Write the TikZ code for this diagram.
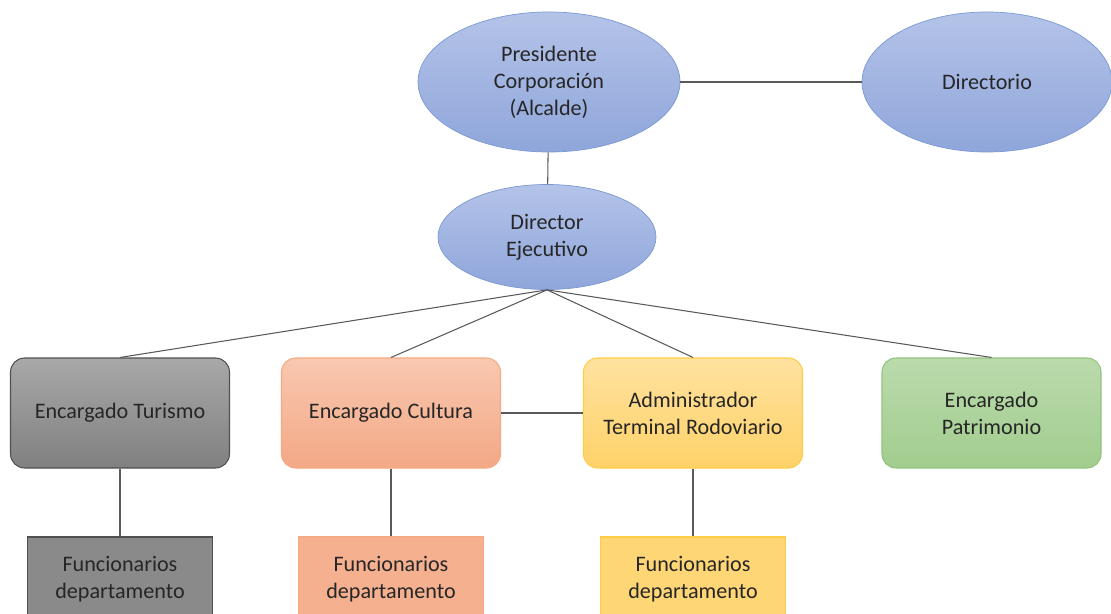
\documentclass[tikz,border=0pt]{standalone}
\usepackage{fontspec}
\setmainfont{Carlito}
\usetikzlibrary{shapes.geometric}

\definecolor{bluetop}{RGB}{180,195,232}
\definecolor{bluebot}{RGB}{143,166,219}
\definecolor{blueline}{RGB}{122,152,212}
\definecolor{graytop}{RGB}{168,168,168}
\definecolor{graybot}{RGB}{128,128,128}
\definecolor{grayline}{RGB}{80,80,80}
\definecolor{orgtop}{RGB}{248,200,176}
\definecolor{orgbot}{RGB}{244,168,134}
\definecolor{orgline}{RGB}{244,170,130}
\definecolor{yeltop}{RGB}{255,226,160}
\definecolor{yelbot}{RGB}{255,210,104}
\definecolor{yelline}{RGB}{255,204,70}
\definecolor{grntop}{RGB}{186,218,172}
\definecolor{grnbot}{RGB}{162,205,142}
\definecolor{grnline}{RGB}{146,196,124}
\definecolor{linkcol}{RGB}{89,89,89}

\begin{document}
\begin{tikzpicture}[
    every node/.style = {align=center, font=\fontsize{12.6}{15.3}\selectfont,
                         text=black!85},
    headn/.style      = {ellipse, draw=blueline, top color=bluetop,
                         bottom color=bluebot, inner sep=0pt},
    unitn/.style      = {draw, rounded corners=8pt, line width=0.6pt,
                         minimum width=4.38cm, minimum height=2.2cm,
                         inner sep=2pt},
    staffn/.style     = {draw, line width=0.6pt, minimum width=3.7cm,
                         minimum height=1.7cm, inner sep=2pt},
    linkln/.style     = {draw=linkcol, line width=0.6pt}]

    \useasboundingbox (0,0) rectangle (22.22,12.26);
    \clip (0,0) rectangle (22.22,12.26);

    % Direction (ellipses)
    \node[headn, minimum width=5.24cm, minimum height=2.8cm] (pres) at (10.98,10.62)
        {Presidente\\Corporación\\(Alcalde)};
    \node[headn, minimum width=5.0cm, minimum height=2.8cm] (dirio) at (19.74,10.62)
        {Directorio};
    \node[headn, minimum width=4.36cm, minimum height=2.1cm] (dejec) at (10.94,7.52)
        {Director\\Ejecutivo};

    % Units
    \node[unitn, draw=grayline, top color=graytop, bottom color=graybot] (tur) at ( 2.40,4.00)
        {Encargado Turismo};
    \node[unitn, draw=orgline, top color=orgtop, bottom color=orgbot] (cul) at ( 7.82,4.00)
        {Encargado Cultura};
    \node[unitn, draw=yelline, top color=yeltop, bottom color=yelbot] (adm) at (13.86,4.00)
        {Administrador\\Terminal Rodoviario};
    \node[unitn, draw=grnline, top color=grntop, bottom color=grnbot] (pat) at (19.83,4.00)
        {Encargado\\Patrimonio};

    % Staff
    \node[staffn, draw=grayline, fill=graybot!75!graytop] (ftur) at ( 2.40,0.67)
        {Funcionarios\\departamento};
    \node[staffn, draw=orgline, fill=orgbot!75!orgtop] (fcul) at ( 7.82,0.67)
        {Funcionarios\\departamento};
    \node[staffn, draw=yelline, fill=yelbot!75!yeltop] (fadm) at (13.86,0.67)
        {Funcionarios\\departamento};

    % Links
    \draw[linkln] (pres) -- (dirio);
    \draw[linkln] (pres) -- (dejec);

    \draw[linkln] (dejec.south) -- (tur.north);
    \draw[linkln] (dejec.south) -- (cul.north);
    \draw[linkln] (dejec.south) -- (adm.north);
    \draw[linkln] (dejec.south) -- (pat.north);
    \draw[linkln] (cul) -- (adm);

    \draw[linkln] (tur) -- (ftur);
    \draw[linkln] (cul) -- (fcul);
    \draw[linkln] (adm) -- (fadm);
  \end{tikzpicture}
\end{document}
